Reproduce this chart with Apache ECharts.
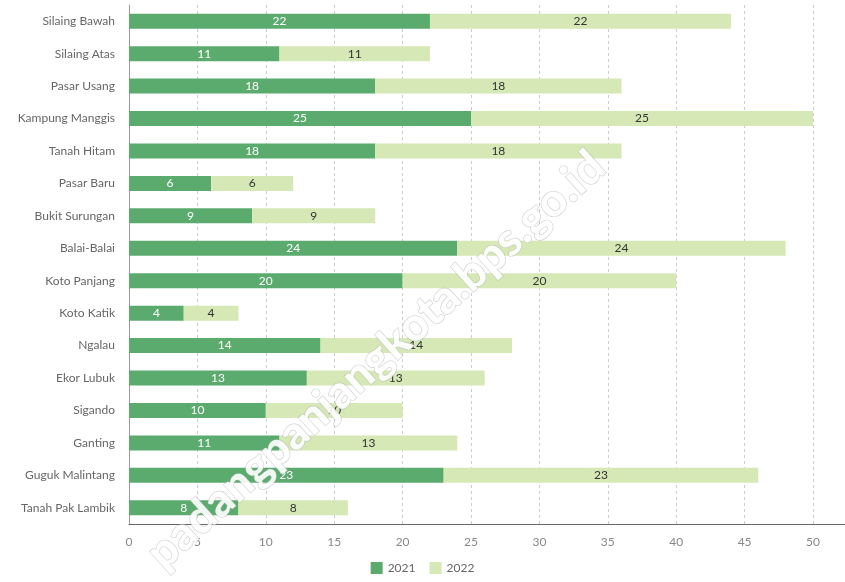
<!DOCTYPE html>
<html>
<head>
<meta charset="utf-8">
<script src="https://cdn.jsdelivr.net/npm/echarts@6/dist/echarts.min.js"></script>
<style>
html,body{margin:0;padding:0;background:#fff;}
#chart{width:845px;height:582px;}
</style>
</head>
<body>
<div id="chart"></div>
<script>
const categories = ["Silaing Bawah","Silaing Atas","Pasar Usang","Kampung Manggis","Tanah Hitam","Pasar Baru","Bukit Surungan","Balai-Balai","Koto Panjang","Koto Katik","Ngalau","Ekor Lubuk","Sigando","Ganting","Guguk Malintang","Tanah Pak Lambik"];
const values2021 = [22,11,18,25,18,6,9,24,20,4,14,13,10,11,23,8];
const values2022 = [22,11,18,25,18,6,9,24,20,4,14,13,10,13,23,8];
const seriesNames = ["2021","2022"];
const watermark = "padangpanjangkota.bps.go.id";

const chart = echarts.init(document.getElementById('chart'));
const FONT = 'Lato';
chart.setOption({
  animation: false,
  backgroundColor: '#fff',
  textStyle: { fontFamily: FONT },
  grid: { left: 129, right: 32, top: 5, bottom: 58, containLabel: false },
  legend: {
    data: seriesNames,
    bottom: 3,
    left: 'center',
    icon: 'rect',
    itemWidth: 12,
    itemHeight: 12,
    itemGap: 14,
    textStyle: { color: '#666', fontSize: 12, fontFamily: FONT }
  },
  xAxis: {
    type: 'value',
    min: 0,
    max: 50,
    interval: 5,
    axisLine: { show: true, lineStyle: { color: '#666', width: 1 } },
    axisTick: { show: false },
    axisLabel: { color: '#888', fontSize: 12, margin: 12, fontFamily: FONT },
    splitLine: { show: true, lineStyle: { color: '#ccc', type: [3, 3] } }
  },
  yAxis: {
    type: 'category',
    inverse: true,
    data: categories,
    axisLine: { show: true, lineStyle: { color: '#999' } },
    axisTick: { show: false },
    axisLabel: { color: '#666', fontSize: 12, margin: 14, fontFamily: FONT }
  },
  series: [
    {
      name: seriesNames[0], type: 'bar', stack: 'total', data: values2021,
      barWidth: 15,
      itemStyle: { color: '#5bab6f' },
      label: { show: true, position: 'inside', color: '#fff', fontSize: 12, fontFamily: FONT }
    },
    {
      name: seriesNames[1], type: 'bar', stack: 'total', data: values2022,
      barWidth: 15,
      itemStyle: { color: '#d6e8b6' },
      label: { show: true, position: 'inside', color: '#333', fontSize: 12, fontFamily: FONT }
    }
  ],
  graphic: [
    { type: 'line', shape: { x1: 813, y1: 524.5, x2: 845, y2: 524.5 }, style: { stroke: '#666', lineWidth: 1 }, z: 10 },
    {
      type: 'text', x: 598, y: 160, rotation: Math.PI * 42 / 180, z: 100,
      style: {
        text: watermark, font: '900 46px Lato', fill: 'rgba(255,255,255,0.9)',
        stroke: 'rgba(170,170,170,0.55)', lineWidth: 1.2, align: 'right', verticalAlign: 'middle',
        shadowColor: 'rgba(0,0,0,0.12)', shadowBlur: 3
      }
    }
  ]
});
</script>
</body>
</html>
